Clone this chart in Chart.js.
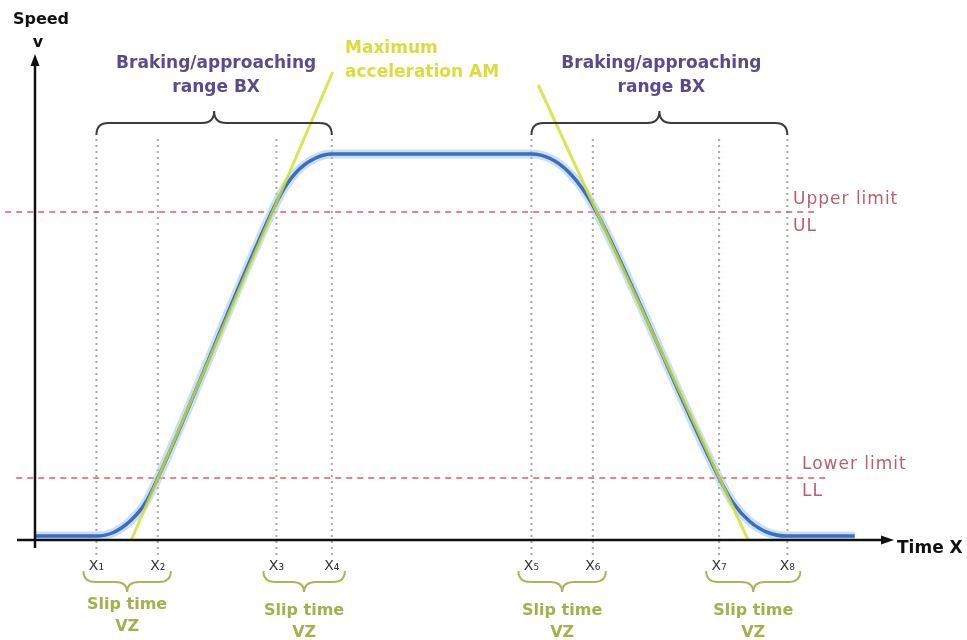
<!DOCTYPE html>
<html>
<head>
<meta charset="utf-8">
<script src="https://cdn.jsdelivr.net/npm/chart.js@4/dist/chart.umd.min.js"></script>
<style>
  html, body { margin: 0; padding: 0; background: #fff; }
  #wrap { width: 967px; height: 640px; }
</style>
</head>
<body>
<div id="wrap"><canvas id="chart" width="967" height="640"></canvas></div>
<script>
// time marks X1..X8 and their labels
const markTimes = [7.2, 14.4, 28.3, 34.8, 58.2, 65.4, 80.2, 88.2];
const markLabels = ['X\u2081', 'X\u2082', 'X\u2083', 'X\u2084', 'X\u2085', 'X\u2086', 'X\u2087', 'X\u2088'];

// speed profile (blue)
const speedTimes  = [0, 7.2, 9.2, 11.1, 12.9, 14.4, 27.6, 29.2, 31.0, 32.9, 34.8, 58.2, 60.4, 62.5, 64.6, 66.6, 80.2, 81.9, 83.8, 85.9, 88.2, 96.1];
const speedValues = [0.8, 0.8, 1.5, 3.7, 7.3, 12.4, 65.0, 70.3, 74.2, 76.4, 77.2, 77.2, 76.3, 73.7, 69.2, 63.0, 12.4, 7.3, 3.7, 1.5, 0.8, 0.8];

// maximum acceleration lines (yellow)
const accelTimes = [11.3, 34.9];
const accelSpeeds = [0, 93.6];
const decelTimes = [59.0, 83.6];
const decelSpeeds = [91.0, 0];

// limits (red dashed)
const upperLimit = 65.6;
const lowerLimit = 12.4;
const upperSpan = [-3.5, 91.4];
const lowerSpan = [-2.2, 93.2];

// extent of the dotted time marks
const markSpan = [-3, 81];

function pts(xs, ys) { return xs.map((x, i) => ({ x: x, y: ys[i] })); }

const markSets = markTimes.map(t => ({
  data: [{ x: t, y: markSpan[0] }, { x: t, y: markSpan[1] }],
  borderColor: '#aaa99a', borderWidth: 2, borderDash: [2, 4],
  pointRadius: 0, clip: false, order: 5
}));

function brace(ctx, x1, x2, yEnd, yLine, yTip, r) {
  const xm = (x1 + x2) / 2;
  ctx.beginPath();
  ctx.moveTo(x1, yEnd);
  ctx.quadraticCurveTo(x1, yLine, x1 + r, yLine);
  ctx.lineTo(xm - r, yLine);
  ctx.quadraticCurveTo(xm, yLine, xm, yTip);
  ctx.quadraticCurveTo(xm, yLine, xm + r, yLine);
  ctx.lineTo(x2 - r, yLine);
  ctx.quadraticCurveTo(x2, yLine, x2, yEnd);
  ctx.stroke();
}

const decor = {
  id: 'decor',
  afterDatasetsDraw(chart) {
    const ctx = chart.ctx;
    const xs = chart.scales.x, ys = chart.scales.y;
    const x0 = xs.getPixelForValue(0), y0 = ys.getPixelForValue(0);
    ctx.save();

    // axes with arrows
    ctx.strokeStyle = '#111'; ctx.fillStyle = '#111'; ctx.lineWidth = 2.5;
    ctx.beginPath();
    ctx.moveTo(x0, y0 + 8); ctx.lineTo(x0, 62);
    ctx.moveTo(17, y0); ctx.lineTo(884, y0);
    ctx.stroke();
    ctx.beginPath();
    ctx.moveTo(x0, 54); ctx.lineTo(x0 - 4.5, 66); ctx.lineTo(x0 + 4.5, 66); ctx.closePath(); ctx.fill();
    ctx.beginPath();
    ctx.moveTo(894, y0); ctx.lineTo(881, y0 - 4.5); ctx.lineTo(881, y0 + 4.5); ctx.closePath(); ctx.fill();

    // axis titles
    ctx.textBaseline = 'middle';
    ctx.textAlign = 'center';
    ctx.font = 'bold 16px "DejaVu Sans"';
    ctx.fillText('Speed', 41, 20);
    ctx.fillText('v', 38, 43);
    ctx.textAlign = 'left';
    ctx.font = 'bold 17px "DejaVu Sans"';
    ctx.fillText('Time X', 897, 549);

    // top braces: braking / approaching ranges
    ctx.strokeStyle = '#3c3c3c'; ctx.lineWidth = 2;
    const topPairs = [[0, 3], [4, 7]];
    topPairs.forEach(p => {
      brace(ctx, xs.getPixelForValue(markTimes[p[0]]), xs.getPixelForValue(markTimes[p[1]]), 135, 123, 111, 12);
    });
    ctx.fillStyle = '#5b4b8c';
    ctx.textAlign = 'center';
    ctx.font = 'bold 17px "DejaVu Sans"';
    topPairs.forEach(p => {
      const cx = (xs.getPixelForValue(markTimes[p[0]]) + xs.getPixelForValue(markTimes[p[1]])) / 2 + 2;
      ctx.fillText('Braking/approaching', cx, 64);
      ctx.fillText('range BX', cx, 88);
    });

    // maximum acceleration label
    ctx.fillStyle = '#dcdc3c';
    ctx.textAlign = 'left';
    ctx.fillText('Maximum', 345, 49);
    ctx.fillText('acceleration AM', 345, 73);

    // limit labels
    ctx.fillStyle = '#b5606e';
    ctx.font = '17px "DejaVu Sans"';
    ctx.letterSpacing = '1px';
    ctx.fillText('Upper limit', 793, 200);
    ctx.fillText('UL', 793, 227);
    ctx.fillText('Lower limit', 802, 465);
    ctx.fillText('LL', 802, 492);
    ctx.letterSpacing = '0px';

    // mark labels
    ctx.fillStyle = '#333';
    ctx.textAlign = 'center';
    ctx.font = '14px "DejaVu Sans"';
    markTimes.forEach((t, i) => ctx.fillText(markLabels[i], xs.getPixelForValue(t), 566));

    // slip time braces
    ctx.strokeStyle = '#a9b55a'; ctx.lineWidth = 2;
    ctx.fillStyle = '#a3b04c';
    ctx.font = 'bold 16px "DejaVu Sans"';
    [[0, 1], [2, 3], [4, 5], [6, 7]].forEach((p, k) => {
      const a = xs.getPixelForValue(markTimes[p[0]]) - 13;
      const b = xs.getPixelForValue(markTimes[p[1]]) + 13;
      brace(ctx, a, b, 571, 582, 592, 12);
      const cx = (a + b) / 2;
      const ty = k === 0 ? 605 : 611;
      ctx.fillText('Slip time', cx, ty);
      ctx.fillText('VZ', cx, ty + 22);
    });

    ctx.restore();
  }
};

new Chart(document.getElementById('chart'), {
  type: 'line',
  data: {
    datasets: [
      { data: pts(accelTimes, accelSpeeds), borderColor: 'rgba(208,222,40,0.8)', borderWidth: 3, pointRadius: 0, clip: false, order: 0 },
      { data: pts(decelTimes, decelSpeeds), borderColor: 'rgba(208,222,40,0.8)', borderWidth: 3, pointRadius: 0, clip: false, order: 0 },
      { data: pts(speedTimes, speedValues), borderColor: '#3d6cc0', borderWidth: 3.5, pointRadius: 0, cubicInterpolationMode: 'monotone', clip: false, order: 1 },
      { data: pts(speedTimes, speedValues), borderColor: 'rgba(160,205,240,0.6)', borderWidth: 9, pointRadius: 0, cubicInterpolationMode: 'monotone', clip: false, order: 2 },
      { data: [{ x: upperSpan[0], y: upperLimit }, { x: upperSpan[1], y: upperLimit }], borderColor: '#e8566e', borderWidth: 1.5, borderDash: [6, 5], pointRadius: 0, clip: false, order: 3 },
      { data: [{ x: lowerSpan[0], y: lowerLimit }, { x: lowerSpan[1], y: lowerLimit }], borderColor: '#e8566e', borderWidth: 1.5, borderDash: [6, 5], pointRadius: 0, clip: false, order: 3 }
    ].concat(markSets)
  },
  options: {
    responsive: false,
    animation: false,
    devicePixelRatio: 1,
    layout: { padding: { left: 35, right: 79, top: 40, bottom: 100 } },
    plugins: { legend: { display: false }, tooltip: { enabled: false } },
    scales: {
      x: { type: 'linear', min: 0, max: 100, display: false },
      y: { min: 0, max: 100, display: false }
    }
  },
  plugins: [decor]
});
</script>
</body>
</html>
